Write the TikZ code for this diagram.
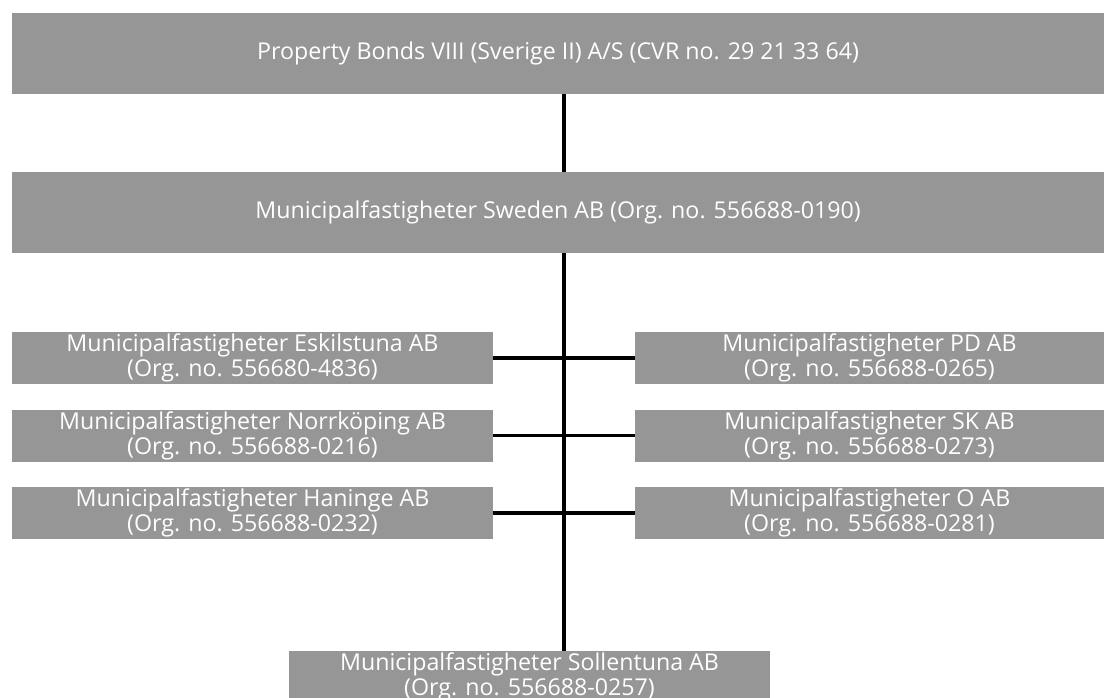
\documentclass[tikz,border=0pt]{standalone}
\usepackage{fontspec}
\setmainfont{Open Sans}
\definecolor{boxgray}{RGB}{150,150,150}
\tikzset{
  orgbox/.style={fill=boxgray, draw=none, inner sep=0pt, text=white, align=center,
    font=\fontsize{23.2}{25}\selectfont},
  link/.style={draw=black, line width=3.2pt}
}
\begin{document}
\begin{tikzpicture}[x=1pt,y=-1pt]
\clip (0,0) rectangle (1104,698);
\useasboundingbox (0,0) rectangle (1104,698);
\node[orgbox, minimum width=1092pt, minimum height=81pt] (top) at (558,53.5)
  {Property Bonds VIII (Sverige II) A/S (CVR no. 29 21 33 64)};
\node[orgbox, minimum width=1092pt, minimum height=81pt] (mid) at (558,212.5)
  {Municipalfastigheter Sweden AB (Org. no. 556688-0190)};
\node[orgbox, minimum width=481pt, minimum height=52pt] (l1) at (252.5,358)
  {Municipalfastigheter Eskilstuna AB\\(Org. no. 556680-4836)};
\node[orgbox, minimum width=481pt, minimum height=52pt] (l2) at (252.5,435.5)
  {Municipalfastigheter Norrköping AB\\(Org. no. 556688-0216)};
\node[orgbox, minimum width=481pt, minimum height=52pt] (l3) at (252.5,513)
  {Municipalfastigheter Haninge AB\\(Org. no. 556688-0232)};
\node[orgbox, minimum width=469pt, minimum height=52pt] (r1) at (869.5,358)
  {Municipalfastigheter PD AB\\(Org. no. 556688-0265)};
\node[orgbox, minimum width=469pt, minimum height=52pt] (r2) at (869.5,435.5)
  {Municipalfastigheter SK AB\\(Org. no. 556688-0273)};
\node[orgbox, minimum width=469pt, minimum height=52pt] (r3) at (869.5,513)
  {Municipalfastigheter O AB\\(Org. no. 556688-0281)};
\node[orgbox, minimum width=481pt, minimum height=52pt] (bot) at (529.5,677)
  {Municipalfastigheter Sollentuna AB\\(Org. no. 556688-0257)};
\coordinate (sx) at (564,0);
\draw[link] (top.south -| sx) -- (mid.north -| sx);
\draw[link] (mid.south -| sx) -- (bot.north -| sx);
\draw[link] (l1.east) -- (r1.west);
\draw[link] (l2.east) -- (r2.west);
\draw[link] (l3.east) -- (r3.west);
\end{tikzpicture}
\end{document}
